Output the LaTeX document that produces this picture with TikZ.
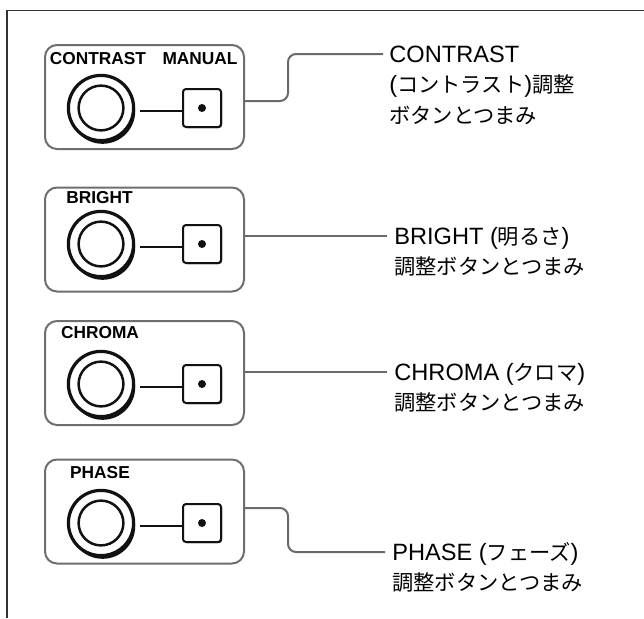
\documentclass[tikz,border=0pt]{standalone}
\usepackage{fontspec}
\setmainfont{Liberation Sans}
\newfontfamily\jp[Scale=0.9]{Noto Sans CJK JP}
\usepackage{tikz}
\usetikzlibrary{positioning}
\definecolor{inkcol}{HTML}{111111}
\definecolor{boxcol}{HTML}{6E6E6E}
\definecolor{wirecol}{HTML}{6A6A6A}
\definecolor{framecol}{HTML}{333333}

\begin{document}
\begin{tikzpicture}[x=0.5pt,y=0.5pt,
  panel/.style={draw=boxcol,line width=1pt,rounded corners=6pt,minimum width=99.5pt,minimum height=52pt,inner sep=0pt},
  knob/.style={circle,draw=inkcol,fill=white,line width=1.6pt,minimum size=32.6pt,inner sep=0pt,
    preaction={fill=inkcol,transform canvas={shift={(0.8pt,-1.6pt)}}}},
  btn/.style={rectangle,draw=inkcol,fill=white,line width=1pt,rounded corners=1.5pt,minimum size=19pt,inner sep=0pt,
    preaction={fill=inkcol,transform canvas={shift={(0.5pt,-0.5pt)}}}},
  tag/.style={font=\bfseries\fontsize{8.65}{10}\selectfont,inner sep=0pt},
  lbl/.style={font=\fontsize{11.8}{15.2}\selectfont,align=left,inner sep=0pt,anchor=base west},
  conn/.style={draw=wirecol,line width=1pt,rounded corners=4pt},
  wire/.style={draw=inkcol,line width=0.85pt}]
\useasboundingbox (0,0) rectangle (644,-618);
\draw[framecol,line width=0.75pt] (7,-618)--(7,-10.5)--(644,-10.5);
% CONTRAST / MANUAL
\node[panel] (p1) at (144.5,-97) {};
\node[knob] (k1) at (101,-108) {};
\draw[inkcol,line width=1.25pt] (k1) circle (11.2pt);
\node[btn] (b1) at (202,-108) {};
\fill[inkcol] (b1) circle (2pt);
\draw[wire] ([xshift=2.5pt,yshift=-1.5pt]k1.east)--([yshift=-1.5pt]b1.west);
\node[tag] (n1) at (98,-59) {CONTRAST};
\node[tag] (m1) at (200,-59) {MANUAL};
\coordinate (e1) at (383,-54);
\draw[conn] ([yshift=-2pt]p1.east)--(288,-101)--(288,-54)--(e1);
\node[lbl] (t1) at ([shift={(3pt,-34.6pt)}]e1) {CONTRAST\\({\jp コントラスト})\jp 調整\\{\jp ボタンとつまみ}};
% BRIGHT
\node[panel] (p2) at (144.5,-239.5) {};
\node[knob] (k2) at (101,-244) {};
\draw[inkcol,line width=1.25pt] (k2) circle (11.2pt);
\node[btn] (b2) at (202,-244) {};
\fill[inkcol] (b2) circle (2pt);
\draw[wire] ([xshift=2.5pt,yshift=-1.5pt]k2.east)--([yshift=-1.5pt]b2.west);
\node[tag] (n2) at (99.5,-198) {BRIGHT};
\coordinate (e2) at (387,-236);
\draw[conn] ([yshift=1.75pt]p2.east)--(e2);
\node[lbl] (t2) at ([shift={(3.5pt,-19.4pt)}]e2) {BRIGHT ({\jp 明るさ})\\{\jp 調整ボタンとつまみ}};
% CHROMA
\node[panel] (p3) at (144.5,-373) {};
\node[knob] (k3) at (101,-384) {};
\draw[inkcol,line width=1.25pt] (k3) circle (11.2pt);
\node[btn] (b3) at (202,-384) {};
\fill[inkcol] (b3) circle (2pt);
\draw[wire] ([xshift=2.5pt,yshift=-1.5pt]k3.east)--([yshift=-1.5pt]b3.west);
\node[tag] (n3) at (100,-333) {CHROMA};
\coordinate (e3) at (387,-372);
\draw[conn] ([yshift=0.5pt]p3.east)--(e3);
\node[lbl] (t3) at ([shift={(3.5pt,-19.4pt)}]e3) {CHROMA ({\jp クロマ})\\{\jp 調整ボタンとつまみ}};
% PHASE
\node[panel] (p4) at (144.5,-511.5) {};
\node[knob] (k4) at (101,-523) {};
\draw[inkcol,line width=1.25pt] (k4) circle (11.2pt);
\node[btn] (b4) at (202,-523) {};
\fill[inkcol] (b4) circle (2pt);
\draw[wire] ([xshift=2.5pt,yshift=-1.5pt]k4.east)--([yshift=-1.5pt]b4.west);
\node[tag] (n4) at (100,-473) {PHASE};
\coordinate (e4) at (385,-552);
\draw[conn] ([yshift=1.75pt]p4.east)--(288,-508)--(288,-552)--(e4);
\node[lbl] (t4) at ([shift={(3.5pt,-19.4pt)}]e4) {PHASE ({\jp フェーズ})\\{\jp 調整ボタンとつまみ}};
\end{tikzpicture}
\end{document}
